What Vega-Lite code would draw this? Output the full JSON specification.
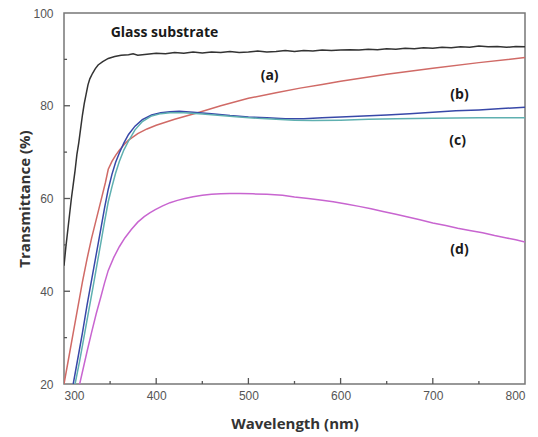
{
  "$schema": "https://vega.github.io/schema/vega-lite/v6.json",
  "width": 461,
  "height": 371,
  "autosize": "none",
  "padding": {"left": 64, "top": 13, "right": 13, "bottom": 53},
  "background": "white",
  "config": {
    "view": {"stroke": "#777777", "strokeWidth": 1.5},
    "axis": {"labelFont": "Liberation Sans", "labelFontSize": 12, "labelColor": "#555555", "titleFont": "Open Sans", "titleFontSize": 15, "titleFontWeight": "bold", "titleColor": "#333333", "ticks": false, "tickSize": 0, "domain": false, "grid": false}
  },
  "datasets": {
    "curves": [
      {"wl": 300, "T": 45.5, "s": "glass"}, {"wl": 302, "T": 49.5, "s": "glass"}, {"wl": 304, "T": 53, "s": "glass"}, {"wl": 306, "T": 56.5, "s": "glass"}, {"wl": 308, "T": 60, "s": "glass"}, {"wl": 310, "T": 63, "s": "glass"}, {"wl": 312, "T": 66, "s": "glass"}, {"wl": 314, "T": 69.5, "s": "glass"}, {"wl": 316, "T": 72, "s": "glass"}, {"wl": 318, "T": 75, "s": "glass"}, {"wl": 320, "T": 78, "s": "glass"}, {"wl": 322, "T": 80.5, "s": "glass"}, {"wl": 324, "T": 82.5, "s": "glass"}, {"wl": 326, "T": 84.5, "s": "glass"}, {"wl": 328, "T": 85.8, "s": "glass"}, {"wl": 331, "T": 87, "s": "glass"}, {"wl": 334, "T": 88, "s": "glass"}, {"wl": 337, "T": 88.8, "s": "glass"}, {"wl": 342, "T": 89.5, "s": "glass"}, {"wl": 348, "T": 90.2, "s": "glass"}, {"wl": 355, "T": 90.6, "s": "glass"}, {"wl": 362, "T": 90.9, "s": "glass"}, {"wl": 370, "T": 91.0, "s": "glass"}, {"wl": 375, "T": 91.2, "s": "glass"}, {"wl": 380, "T": 90.9, "s": "glass"}, {"wl": 390, "T": 91.1, "s": "glass"}, {"wl": 400, "T": 91.3, "s": "glass"}, {"wl": 410, "T": 91.2, "s": "glass"}, {"wl": 420, "T": 91.5, "s": "glass"}, {"wl": 430, "T": 91.3, "s": "glass"}, {"wl": 440, "T": 91.6, "s": "glass"}, {"wl": 450, "T": 91.4, "s": "glass"}, {"wl": 460, "T": 91.6, "s": "glass"}, {"wl": 470, "T": 91.5, "s": "glass"}, {"wl": 480, "T": 91.7, "s": "glass"}, {"wl": 490, "T": 91.5, "s": "glass"}, {"wl": 500, "T": 91.6, "s": "glass"}, {"wl": 510, "T": 91.8, "s": "glass"}, {"wl": 520, "T": 91.6, "s": "glass"}, {"wl": 530, "T": 91.7, "s": "glass"}, {"wl": 540, "T": 91.9, "s": "glass"}, {"wl": 550, "T": 91.7, "s": "glass"}, {"wl": 560, "T": 91.9, "s": "glass"}, {"wl": 570, "T": 91.8, "s": "glass"}, {"wl": 580, "T": 92.0, "s": "glass"}, {"wl": 590, "T": 91.9, "s": "glass"}, {"wl": 600, "T": 92.0, "s": "glass"}, {"wl": 610, "T": 92.1, "s": "glass"}, {"wl": 620, "T": 92.0, "s": "glass"}, {"wl": 630, "T": 92.2, "s": "glass"}, {"wl": 640, "T": 92.1, "s": "glass"}, {"wl": 650, "T": 92.3, "s": "glass"}, {"wl": 660, "T": 92.2, "s": "glass"}, {"wl": 670, "T": 92.4, "s": "glass"}, {"wl": 680, "T": 92.3, "s": "glass"}, {"wl": 690, "T": 92.5, "s": "glass"}, {"wl": 700, "T": 92.4, "s": "glass"}, {"wl": 710, "T": 92.6, "s": "glass"}, {"wl": 720, "T": 92.5, "s": "glass"}, {"wl": 730, "T": 92.7, "s": "glass"}, {"wl": 740, "T": 92.6, "s": "glass"}, {"wl": 750, "T": 92.9, "s": "glass"}, {"wl": 760, "T": 92.7, "s": "glass"}, {"wl": 770, "T": 92.8, "s": "glass"}, {"wl": 780, "T": 92.6, "s": "glass"}, {"wl": 790, "T": 92.8, "s": "glass"}, {"wl": 800, "T": 92.7, "s": "glass"},

      {"wl": 300, "T": 20, "s": "a"}, {"wl": 305, "T": 25.5, "s": "a"}, {"wl": 310, "T": 31, "s": "a"}, {"wl": 315, "T": 36.5, "s": "a"}, {"wl": 320, "T": 42, "s": "a"}, {"wl": 325, "T": 47, "s": "a"}, {"wl": 330, "T": 51.5, "s": "a"}, {"wl": 335, "T": 55.5, "s": "a"}, {"wl": 340, "T": 59.5, "s": "a"}, {"wl": 345, "T": 63.5, "s": "a"}, {"wl": 348, "T": 66.3, "s": "a"}, {"wl": 352, "T": 68, "s": "a"}, {"wl": 356, "T": 69.3, "s": "a"}, {"wl": 360, "T": 70.4, "s": "a"}, {"wl": 365, "T": 71.6, "s": "a"}, {"wl": 370, "T": 72.6, "s": "a"}, {"wl": 380, "T": 74, "s": "a"}, {"wl": 390, "T": 75, "s": "a"}, {"wl": 400, "T": 75.8, "s": "a"}, {"wl": 420, "T": 77.1, "s": "a"}, {"wl": 445, "T": 78.5, "s": "a"}, {"wl": 470, "T": 80, "s": "a"}, {"wl": 500, "T": 81.6, "s": "a"}, {"wl": 530, "T": 82.8, "s": "a"}, {"wl": 556, "T": 83.8, "s": "a"}, {"wl": 580, "T": 84.6, "s": "a"}, {"wl": 600, "T": 85.3, "s": "a"}, {"wl": 650, "T": 86.8, "s": "a"}, {"wl": 700, "T": 88.1, "s": "a"}, {"wl": 750, "T": 89.3, "s": "a"}, {"wl": 800, "T": 90.4, "s": "a"},

      {"wl": 310, "T": 20, "s": "b"}, {"wl": 315, "T": 25.5, "s": "b"}, {"wl": 320, "T": 31, "s": "b"}, {"wl": 325, "T": 37, "s": "b"}, {"wl": 330, "T": 42.5, "s": "b"}, {"wl": 335, "T": 48, "s": "b"}, {"wl": 340, "T": 53.5, "s": "b"}, {"wl": 344, "T": 58, "s": "b"}, {"wl": 348, "T": 62, "s": "b"}, {"wl": 352, "T": 65.2, "s": "b"}, {"wl": 356, "T": 67.8, "s": "b"}, {"wl": 360, "T": 69.8, "s": "b"}, {"wl": 365, "T": 72, "s": "b"}, {"wl": 370, "T": 73.8, "s": "b"}, {"wl": 377, "T": 75.6, "s": "b"}, {"wl": 385, "T": 77, "s": "b"}, {"wl": 395, "T": 78, "s": "b"}, {"wl": 405, "T": 78.5, "s": "b"}, {"wl": 415, "T": 78.7, "s": "b"}, {"wl": 425, "T": 78.8, "s": "b"}, {"wl": 440, "T": 78.6, "s": "b"}, {"wl": 460, "T": 78.3, "s": "b"}, {"wl": 480, "T": 77.9, "s": "b"}, {"wl": 500, "T": 77.6, "s": "b"}, {"wl": 520, "T": 77.4, "s": "b"}, {"wl": 540, "T": 77.2, "s": "b"}, {"wl": 560, "T": 77.2, "s": "b"}, {"wl": 580, "T": 77.4, "s": "b"}, {"wl": 600, "T": 77.6, "s": "b"}, {"wl": 625, "T": 77.8, "s": "b"}, {"wl": 650, "T": 78.0, "s": "b"}, {"wl": 675, "T": 78.3, "s": "b"}, {"wl": 700, "T": 78.6, "s": "b"}, {"wl": 725, "T": 78.9, "s": "b"}, {"wl": 750, "T": 79.1, "s": "b"}, {"wl": 775, "T": 79.4, "s": "b"}, {"wl": 800, "T": 79.7, "s": "b"},

      {"wl": 312, "T": 20, "s": "c"}, {"wl": 317, "T": 25, "s": "c"}, {"wl": 322, "T": 30.5, "s": "c"}, {"wl": 327, "T": 36, "s": "c"}, {"wl": 332, "T": 41.5, "s": "c"}, {"wl": 336, "T": 46, "s": "c"}, {"wl": 340, "T": 50.5, "s": "c"}, {"wl": 344, "T": 55, "s": "c"}, {"wl": 348, "T": 59.3, "s": "c"}, {"wl": 352, "T": 62.5, "s": "c"}, {"wl": 356, "T": 65.5, "s": "c"}, {"wl": 360, "T": 68, "s": "c"}, {"wl": 365, "T": 70.5, "s": "c"}, {"wl": 370, "T": 72.4, "s": "c"}, {"wl": 377, "T": 74.8, "s": "c"}, {"wl": 385, "T": 76.6, "s": "c"}, {"wl": 395, "T": 77.8, "s": "c"}, {"wl": 405, "T": 78.3, "s": "c"}, {"wl": 415, "T": 78.5, "s": "c"}, {"wl": 430, "T": 78.5, "s": "c"}, {"wl": 450, "T": 78.2, "s": "c"}, {"wl": 470, "T": 77.9, "s": "c"}, {"wl": 490, "T": 77.6, "s": "c"}, {"wl": 510, "T": 77.3, "s": "c"}, {"wl": 530, "T": 77.1, "s": "c"}, {"wl": 550, "T": 76.9, "s": "c"}, {"wl": 570, "T": 76.8, "s": "c"}, {"wl": 600, "T": 76.9, "s": "c"}, {"wl": 630, "T": 77.1, "s": "c"}, {"wl": 660, "T": 77.2, "s": "c"}, {"wl": 700, "T": 77.3, "s": "c"}, {"wl": 750, "T": 77.4, "s": "c"}, {"wl": 800, "T": 77.4, "s": "c"},

      {"wl": 317, "T": 20, "s": "d"}, {"wl": 321, "T": 23.5, "s": "d"}, {"wl": 325, "T": 27, "s": "d"}, {"wl": 330, "T": 31.2, "s": "d"}, {"wl": 335, "T": 35.2, "s": "d"}, {"wl": 340, "T": 38.8, "s": "d"}, {"wl": 344, "T": 41.8, "s": "d"}, {"wl": 348, "T": 44.5, "s": "d"}, {"wl": 354, "T": 47.3, "s": "d"}, {"wl": 360, "T": 49.6, "s": "d"}, {"wl": 366, "T": 51.5, "s": "d"}, {"wl": 373, "T": 53.3, "s": "d"}, {"wl": 380, "T": 54.9, "s": "d"}, {"wl": 387, "T": 56.1, "s": "d"}, {"wl": 393, "T": 56.9, "s": "d"}, {"wl": 399, "T": 57.6, "s": "d"}, {"wl": 407, "T": 58.4, "s": "d"}, {"wl": 415, "T": 59.1, "s": "d"}, {"wl": 423, "T": 59.6, "s": "d"}, {"wl": 431, "T": 60, "s": "d"}, {"wl": 440, "T": 60.4, "s": "d"}, {"wl": 450, "T": 60.7, "s": "d"}, {"wl": 460, "T": 60.9, "s": "d"}, {"wl": 470, "T": 61.0, "s": "d"}, {"wl": 480, "T": 61.1, "s": "d"}, {"wl": 491, "T": 61.1, "s": "d"}, {"wl": 505, "T": 61.0, "s": "d"}, {"wl": 520, "T": 60.9, "s": "d"}, {"wl": 537, "T": 60.7, "s": "d"}, {"wl": 550, "T": 60.3, "s": "d"}, {"wl": 565, "T": 60.0, "s": "d"}, {"wl": 580, "T": 59.6, "s": "d"}, {"wl": 592, "T": 59.3, "s": "d"}, {"wl": 606, "T": 58.8, "s": "d"}, {"wl": 620, "T": 58.3, "s": "d"}, {"wl": 633, "T": 57.8, "s": "d"}, {"wl": 646, "T": 57.2, "s": "d"}, {"wl": 660, "T": 56.6, "s": "d"}, {"wl": 673, "T": 56.0, "s": "d"}, {"wl": 686, "T": 55.4, "s": "d"}, {"wl": 700, "T": 54.7, "s": "d"}, {"wl": 714, "T": 54.2, "s": "d"}, {"wl": 727, "T": 53.6, "s": "d"}, {"wl": 740, "T": 53.1, "s": "d"}, {"wl": 754, "T": 52.6, "s": "d"}, {"wl": 767, "T": 52.0, "s": "d"}, {"wl": 780, "T": 51.5, "s": "d"}, {"wl": 790, "T": 51.1, "s": "d"}, {"wl": 800, "T": 50.6, "s": "d"}
    ],
    "labels": [
      {"wl": 409, "T": 95.6, "label": "Glass substrate"},
      {"wl": 523, "T": 86.5, "label": "(a)"},
      {"wl": 729, "T": 82.4, "label": "(b)"},
      {"wl": 727, "T": 72.3, "label": "(c)"},
      {"wl": 729, "T": 48.8, "label": "(d)"}
    ]
  },
  "layer": [
    {
      "data": {"name": "curves"},
      "mark": {"type": "line", "strokeWidth": 1.5, "clip": true},
      "encoding": {
        "x": {"field": "wl", "type": "quantitative", "scale": {"domain": [300, 800], "nice": false, "zero": false},
          "axis": {"title": "Wavelength (nm)", "values": [300, 400, 500, 600, 700, 800], "labelPadding": 6, "titlePadding": 15}},
        "y": {"field": "T", "type": "quantitative", "scale": {"domain": [20, 100], "nice": false, "zero": false},
          "axis": {"title": "Transmittance (%)", "values": [20, 40, 60, 80, 100], "labelPadding": 11, "titlePadding": 0}},
        "color": {"field": "s", "type": "nominal", "legend": null,
          "scale": {"domain": ["glass", "a", "b", "c", "d"], "range": ["#333333", "#d06a66", "#3848a8", "#5fb0b0", "#c865d0"]}},
        "order": {"field": "wl", "type": "quantitative"}
      }
    },
    {
      "data": {"values": [{"v": 400}, {"v": 500}, {"v": 600}, {"v": 700}]},
      "mark": {"type": "rule", "color": "#555555", "strokeWidth": 1.3},
      "encoding": {"x": {"field": "v", "type": "quantitative"}, "y": {"datum": 20}, "y2": {"datum": 21.3}}
    },
    {
      "data": {"values": [{"v": 350}, {"v": 450}, {"v": 550}, {"v": 650}, {"v": 750}]},
      "mark": {"type": "rule", "color": "#555555", "strokeWidth": 1.3},
      "encoding": {"x": {"field": "v", "type": "quantitative"}, "y": {"datum": 20}, "y2": {"datum": 20.65}}
    },
    {
      "data": {"values": [{"v": 40}, {"v": 60}, {"v": 80}]},
      "mark": {"type": "rule", "color": "#555555", "strokeWidth": 1.3},
      "encoding": {"y": {"field": "v", "type": "quantitative"}, "x": {"datum": 300}, "x2": {"datum": 306.5}}
    },
    {
      "data": {"values": [{"v": 30}, {"v": 50}, {"v": 70}, {"v": 90}]},
      "mark": {"type": "rule", "color": "#555555", "strokeWidth": 1.3},
      "encoding": {"y": {"field": "v", "type": "quantitative"}, "x": {"datum": 300}, "x2": {"datum": 303.3}}
    },
    {
      "data": {"name": "labels"},
      "mark": {"type": "text", "font": "Open Sans", "fontSize": 14, "fontWeight": "bold", "color": "#1a1a1a", "align": "center", "baseline": "middle"},
      "encoding": {"x": {"field": "wl", "type": "quantitative"}, "y": {"field": "T", "type": "quantitative"}, "text": {"field": "label"}}
    }
  ]
}
